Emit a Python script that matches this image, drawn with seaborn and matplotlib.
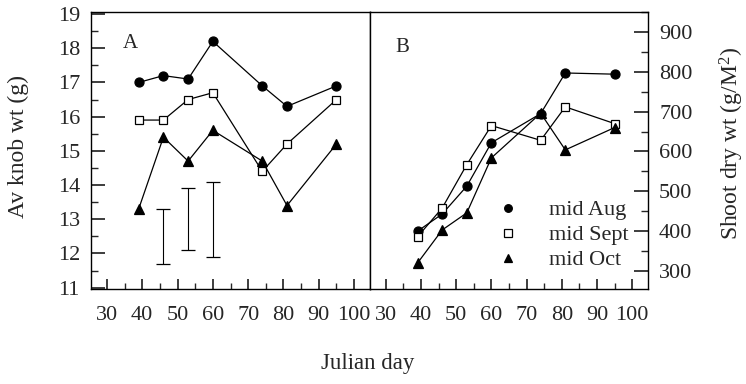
import matplotlib
matplotlib.use("Agg")
import matplotlib.pyplot as plt
from matplotlib.lines import Line2D
from matplotlib.ticker import MultipleLocator
import seaborn as sns
import pandas as pd

# ---- data ----
days = [39, 46, 53, 60, 74, 81, 95]
series = ["mid Aug", "mid Sept", "mid Oct"]

knob_aug = [17.0, 17.2, 17.1, 18.2, 16.9, 16.3, 16.9]
knob_sept = [15.9, 15.9, 16.5, 16.7, 14.4, 15.2, 16.5]
knob_oct = [13.3, 15.4, 14.7, 15.6, 14.7, 13.4, 15.2]

shoot_aug = [400, 443, 513, 622, 695, 797, 794]
shoot_sept = [386, 458, 567, 665, 628, 712, 670]
shoot_oct = [320, 403, 446, 584, 696, 604, 660]

err_day = [46, 53, 60]
err_low = [11.7, 12.1, 11.9]
err_high = [13.3, 13.9, 14.1]

x_ticks = [30, 40, 50, 60, 70, 80, 90, 100]

# ---- style ----
sns.set_theme(style="ticks")
plt.rcParams["font.family"] = ["Liberation Serif", "DejaVu Serif"]
plt.rcParams["mathtext.fontset"] = "custom"
plt.rcParams["mathtext.rm"] = "Liberation Serif"
plt.rcParams["mathtext.it"] = "Liberation Serif"

W, H = 746, 384
fig = plt.figure(figsize=(W / 100, H / 100), dpi=100)
top_px, bot_px = 12, 289
axA = fig.add_axes([91 / W, (H - bot_px) / H, (370 - 91) / W, (bot_px - top_px) / H])
axB = fig.add_axes([370 / W, (H - bot_px) / H, (648 - 370) / W, (bot_px - top_px) / H])

styles = {
    "mid Aug": dict(marker="o", markerfacecolor="black", markersize=6.5),
    "mid Sept": dict(marker="s", markerfacecolor="white", markersize=6),
    "mid Oct": dict(marker="^", markerfacecolor="black", markersize=6.5),
}

knob = {"mid Aug": knob_aug, "mid Sept": knob_sept, "mid Oct": knob_oct}
shoot = {"mid Aug": shoot_aug, "mid Sept": shoot_sept, "mid Oct": shoot_oct}

for s in series:
    dfA = pd.DataFrame({"day": days, "val": knob[s]})
    sns.lineplot(data=dfA, x="day", y="val", ax=axA, color="black", lw=0.9,
                 markeredgecolor="black", markeredgewidth=0.9, **styles[s])
    dfB = pd.DataFrame({"day": days, "val": shoot[s]})
    sns.lineplot(data=dfB, x="day", y="val", ax=axB, color="black", lw=0.9,
                 markeredgecolor="black", markeredgewidth=0.9, **styles[s])

# error bars
centers = [(lo + hi) / 2 for lo, hi in zip(err_low, err_high)]
halves = [(hi - lo) / 2 for lo, hi in zip(err_low, err_high)]
axA.errorbar(err_day, centers, yerr=halves, fmt="none", ecolor="black",
             elinewidth=0.8, capsize=5, capthick=0.9)

FS = 16

# ---- axes A ----
axA.set_xlim(25.5, 104.5)
axA.set_ylim(10.96, 19.06)
axA.set_xticks(x_ticks)
axA.xaxis.set_minor_locator(MultipleLocator(5))
axA.yaxis.set_major_locator(MultipleLocator(1))
axA.yaxis.set_minor_locator(MultipleLocator(0.5))
axA.tick_params(axis="both", which="both", direction="in", labelsize=FS)
axA.tick_params(axis="y", which="major", length=10, pad=8)
axA.tick_params(axis="y", which="minor", length=5)
axA.tick_params(axis="x", which="major", length=7, pad=12)
axA.tick_params(axis="x", which="minor", length=4)
axA.tick_params(axis="y", right=False)
axA.set_xlabel("")
axA.set_ylabel("")
axA.text(0.115, 0.92, "A", transform=axA.transAxes, fontsize=15,
         ha="left", va="top")

# ---- axes B ----
axB.set_xlim(25.5, 104.5)
axB.set_ylim(255, 950)
axB.set_xticks(x_ticks)
axB.xaxis.set_minor_locator(MultipleLocator(5))
axB.yaxis.set_major_locator(MultipleLocator(100))
axB.yaxis.set_minor_locator(MultipleLocator(50))
axB.yaxis.tick_right()
axB.tick_params(axis="both", which="both", direction="in", labelsize=FS)
axB.tick_params(axis="y", which="major", length=10, pad=8, left=False, right=True)
axB.tick_params(axis="y", which="minor", length=5, left=False, right=True)
axB.tick_params(axis="x", which="major", length=7, pad=12)
axB.tick_params(axis="x", which="minor", length=4)
axB.set_xlabel("")
axB.set_ylabel("")
axB.text(0.09, 0.905, "B", transform=axB.transAxes, fontsize=15,
         ha="left", va="top")

for ax in (axA, axB):
    for sp in ax.spines.values():
        sp.set_visible(True)
        sp.set_color("black")
        sp.set_linewidth(1.0)

handles = [Line2D([], [], color="black", linestyle="none",
                  markeredgecolor="black", markeredgewidth=0.9,
                  **{**styles[s], "markersize": 5.5})
           for s in series]
axB.legend(handles, series, loc="upper left", bbox_to_anchor=(0.457, 0.322),
           frameon=False, fontsize=FS, handlelength=1.0, handletextpad=1.35,
           labelspacing=0.2, borderpad=0.0, borderaxespad=0.0)

# axis labels
fig.text(18 / W, 1 - 147 / H, "Av knob wt (g)", rotation=90, ha="center",
         va="center", fontsize=17)
fig.text(732 / W, 1 - 143 / H, "Shoot dry wt (g/M$^2$)", rotation=90,
         ha="center", va="center", fontsize=17)
fig.text(368 / W, 1 - 364 / H, "Julian day", ha="center", va="center",
         fontsize=16.5)

fig.savefig("out.png", dpi=100)
